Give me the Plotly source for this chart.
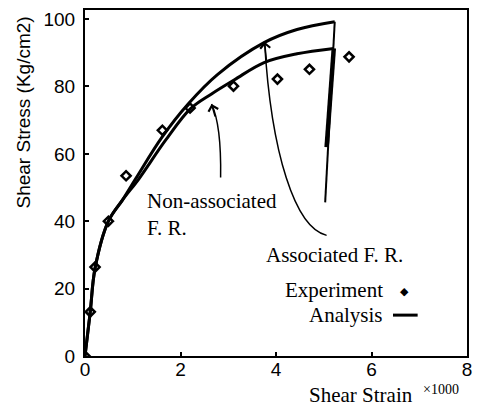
import plotly.graph_objects as go

# Experimental points (shear strain x1000, shear stress kg/cm2)
exp_x = [0, 0.11, 0.21, 0.49, 0.86, 1.62, 2.2, 3.11, 4.03, 4.7, 5.53]
exp_y = [0, 13.1, 26.4, 40, 53.5, 67.0, 73.6, 80.1, 82.2, 85.1, 88.8]

# Analysis - associated flow rule (loading + unloading)
assoc_x = [0, 0.11, 0.21, 0.49, 0.78, 1.06, 1.61, 2.16, 2.78, 3.75, 4.44, 5.23]
assoc_y = [0, 13.1, 26.0, 40, 46.2, 52.6, 64.9, 74.8, 83.6, 93.0, 96.9, 99.2]
assoc_unload_x = [5.23, 5.03]
assoc_unload_y = [99.2, 45.6]

# Analysis - non-associated flow rule (loading + unloading)
nonassoc_x = [0, 0.11, 0.21, 0.49, 0.78, 1.13, 1.68, 2.2, 2.65, 3.13, 3.75, 4.44, 5.21]
nonassoc_y = [0, 13.1, 26.0, 40, 46.2, 52.6, 63.9, 73.3, 77.8, 82.0, 87.1, 89.7, 91.3]
nonassoc_unload_x = [5.21, 5.06]
nonassoc_unload_y = [91.3, 62.0]

x_ticks = [0, 2, 4, 6, 8]
y_ticks = [0, 20, 40, 60, 80, 100]

W, H = 480, 412
ML, MR, MT, MB = 85, 8, 9, 56
PW, PH = W - ML - MR, H - MT - MB


def px(x):
    return (x - ML) / PW


def py(y):
    return (H - MB - y) / PH


SERIF = "Liberation Serif, Times New Roman, serif"
SANS = "Liberation Sans, Arial, sans-serif"

fig = go.Figure()
fig.add_trace(go.Scatter(x=assoc_x, y=assoc_y, mode="lines",
                         line=dict(color="black", width=3, shape="spline", smoothing=1.0)))
fig.add_trace(go.Scatter(x=nonassoc_x, y=nonassoc_y, mode="lines",
                         line=dict(color="black", width=3, shape="spline", smoothing=1.0)))
fig.add_trace(go.Scatter(x=assoc_unload_x, y=assoc_unload_y, mode="lines",
                         line=dict(color="black", width=2)))
fig.add_trace(go.Scatter(x=nonassoc_unload_x, y=nonassoc_unload_y, mode="lines",
                         line=dict(color="black", width=4.5)))
fig.add_trace(go.Scatter(x=exp_x, y=exp_y, mode="markers",
                         marker=dict(symbol="diamond-open", size=7, color="black",
                                     line=dict(color="black", width=2.5))))

# curved arrows
fig.add_shape(type="path", xref="x", yref="y",
              path="M 2.84,53 C 2.85,62 2.81,70 2.65,74.8",
              line=dict(color="black", width=1.5))
fig.add_shape(type="path", xref="x", yref="y",
              path="M 5.06,35.8 C 4.4,38 3.9,60 3.76,93.3",
              line=dict(color="black", width=1.5))
fig.add_annotation(x=2.65, y=74.8, ax=4, ay=14, xref="x", yref="y", text="",
                   showarrow=True, arrowhead=4, arrowsize=1.3, arrowwidth=1.5, arrowcolor="black")
fig.add_annotation(x=3.76, y=93.3, ax=2, ay=20, xref="x", yref="y", text="",
                   showarrow=True, arrowhead=4, arrowsize=1.3, arrowwidth=1.5, arrowcolor="black")


def txt(text, x, y, size=21, font=SERIF, xanchor="left", yanchor="middle", textangle=0):
    fig.add_annotation(x=px(x), y=py(y), xref="paper", yref="paper", text=text,
                       showarrow=False, xanchor=xanchor, yanchor=yanchor, align="left",
                       font=dict(family=font, size=size, color="black"), textangle=textangle)


txt("Non-associated<br>F. R.", 146, 187, yanchor="top")
txt("Associated F. R.", 266, 255)
txt("Experiment", 286, 290)
txt("◆", 409, 291, size=11, font="DejaVu Sans", xanchor="center")
txt("Analysis", 310, 315)
fig.add_shape(type="line", xref="paper", yref="paper", x0=px(397), x1=px(422),
              y0=py(315), y1=py(315), line=dict(color="black", width=3))

txt("Shear Stress (Kg/cm2)", 23, 112, size=19, font=SANS, xanchor="center", textangle=-90)
txt("Shear Strain", 365, 395, xanchor="center")
txt("×1000", 446, 390, size=14, xanchor="center")

axis_common = dict(showgrid=False, zeroline=False, showline=True, linecolor="black",
                   linewidth=2, mirror=True, ticks="inside", ticklen=4, tickwidth=1.5,
                   tickcolor="black", tickfont=dict(family=SANS, size=19, color="black"))
fig.update_xaxes(range=[0, 8], tickvals=x_ticks, ticklabelstandoff=-5, **axis_common)
fig.update_yaxes(range=[0, 102.7], tickvals=y_ticks, ticklabelstandoff=4, **axis_common)

fig.update_layout(width=W, height=H, margin=dict(l=ML, r=MR, t=MT, b=MB),
                  paper_bgcolor="white", plot_bgcolor="white", showlegend=False)

fig.write_html("out.html")
